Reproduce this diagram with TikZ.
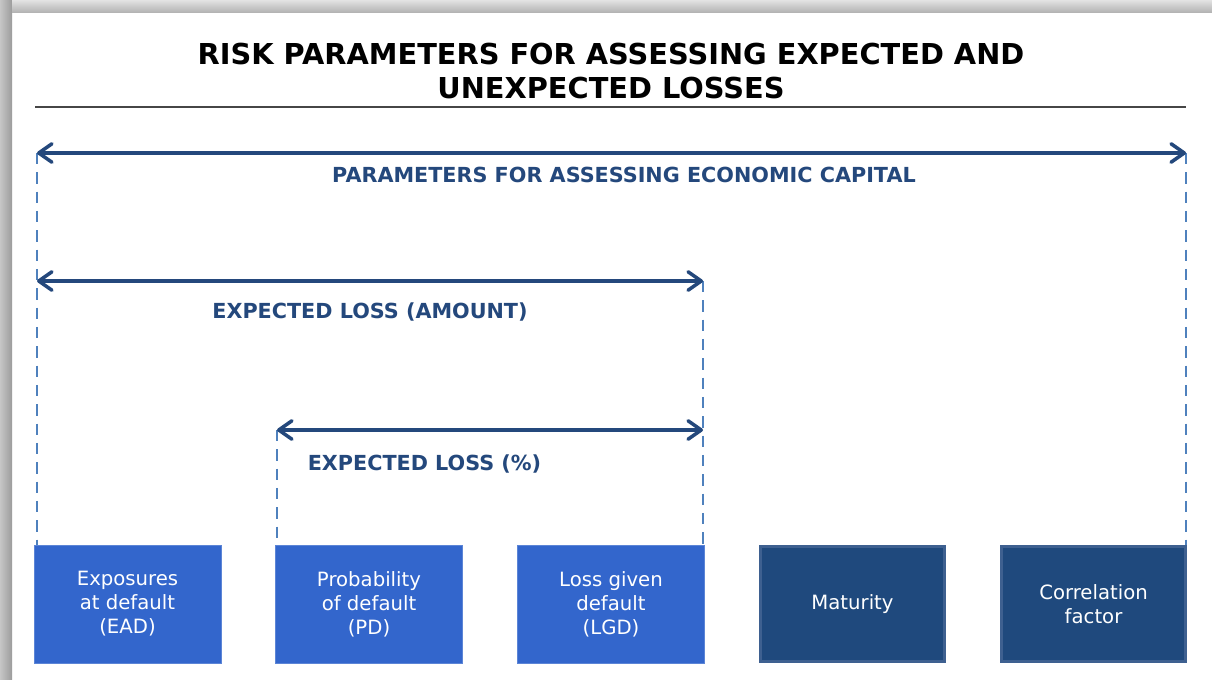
\documentclass[tikz,border=0pt]{standalone}
\usepackage{fontspec}
\setmainfont{DejaVu Sans}
\usetikzlibrary{arrows.meta}
\definecolor{darkblue}{RGB}{31,73,125}
\definecolor{darkborder}{RGB}{62,96,144}
\definecolor{lblue}{RGB}{51,102,204}
\definecolor{dashblue}{RGB}{79,129,189}
\definecolor{labelblue}{RGB}{36,72,124}
\definecolor{rulegray}{RGB}{70,70,70}
\begin{document}
\begin{tikzpicture}[x=0.02cm,y=-0.02cm,
  span/.style={line width=2pt, draw=labelblue, {Straight Barb[length=7.5pt,width=10.5pt,round]}-{Straight Barb[length=7.5pt,width=10.5pt,round]}},
  guide/.style={line width=1.5pt, draw=dashblue, dash pattern=on 6.5pt off 4.5pt},
  spanlabel/.style={font=\bfseries\fontsize{11.8}{14}\selectfont, text=labelblue, inner sep=0pt},
  lightbox/.style={fill=lblue, draw=lblue!80!white, line width=0.5pt, minimum width=3.74cm, minimum height=2.36cm, text=white, align=center, font=\fontsize{11.2}{13.6}\selectfont, inner sep=0pt},
  darkbox/.style={fill=darkblue, draw=darkborder, line width=2pt, minimum width=3.68cm, minimum height=2.30cm, text=white, align=center, font=\fontsize{11.2}{13.6}\selectfont, inner sep=0pt}
]
\useasboundingbox (0,0) rectangle (1212,679);
\fill[white] (0,0) rectangle (1212,679);
% page shadow
\shade[left color=gray!45, right color=gray!78] (0,0) rectangle (12,679);
\shade[top color=gray!22, bottom color=gray!62] (12,0) rectangle (1212,13);

% title
\node[font=\bfseries\fontsize{16.4}{19.3}\selectfont, align=center, inner sep=0pt] (title) at (611,71) {RISK PARAMETERS FOR ASSESSING EXPECTED AND\\UNEXPECTED LOSSES};
\coordinate (ruleL) at (35,107);
\coordinate (ruleR) at (1186,107);
\draw[line width=1.3pt, rulegray] (ruleL) -- (ruleR);

% boxes
\node[lightbox] (ead) at (127.5,604) {Exposures\\at default\\(EAD)};
\node[lightbox] (pd) at (369,604) {Probability\\of default\\(PD)};
\node[lightbox] (lgd) at (611,604) {Loss given\\default\\(LGD)};
\node[darkbox] (mat) at (852.5,604) {Maturity};
\node[darkbox] (corr) at (1093.5,604) {Correlation\\factor};

% arrow end points
\coordinate (capL) at (37,153);
\coordinate (capR) at (1186,153);
\coordinate (amtL) at (37,281);
\coordinate (amtR) at (703,281);
\coordinate (pctL) at (277,430);
\coordinate (pctR) at (703,430);
\coordinate (eadTop) at (37,545);
\coordinate (pdTop) at (277,545);
\coordinate (lgdTop) at (703,545);
\coordinate (corrTop) at (1186,545);

% guides
\draw[guide] (capL) -- (eadTop);
\draw[guide] (capR) -- (corrTop);
\draw[guide] (amtR) -- (lgdTop);
\draw[guide] (pctL) -- (pdTop);

% spans
\draw[span] (capL) -- (capR);
\draw[span] (amtL) -- (amtR);
\draw[span] (pctL) -- (pctR);

% labels
\node[spanlabel] (capLabel) at (624,175) {PARAMETERS FOR ASSESSING ECONOMIC CAPITAL};
\node[spanlabel] (amtLabel) at (370,312) {EXPECTED LOSS (AMOUNT)};
\node[spanlabel] (pctLabel) at (424.5,464) {EXPECTED LOSS (\%)};
\end{tikzpicture}
\end{document}
